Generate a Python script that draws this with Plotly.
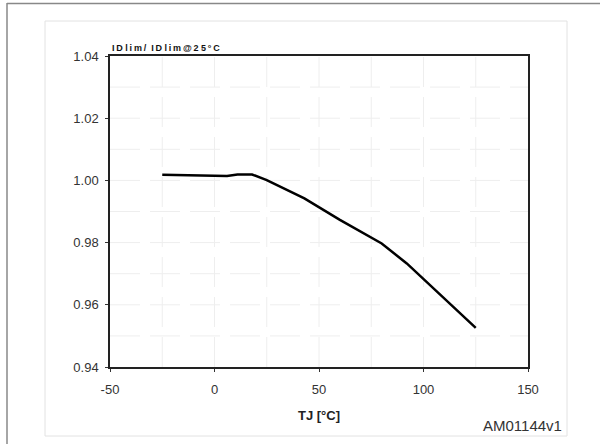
import plotly.graph_objects as go

tj = [-25, 0, 6, 11, 18, 25, 43, 60, 80, 92, 125]
ratio = [1.0018, 1.0015, 1.0014, 1.0019, 1.0019, 1.0001, 0.9942, 0.9873, 0.9797, 0.9733, 0.9526]

x_ticks = [-50, 0, 50, 100, 150]
x_tick_text = ["-50", "0", "50", "100", "150"]
y_ticks = [0.94, 0.96, 0.98, 1.00, 1.02, 1.04]
y_tick_text = ["0.94", "0.96", "0.98", "1.00", "1.02", "1.04"]

W, H = 600, 444
L, R, T, B = 110, 72, 56, 77
pw, ph = W - L - R, H - T - B

def px(x):
    return (x - L) / pw

def py(y):
    return (H - B - y) / ph

fig = go.Figure()
fig.add_trace(go.Scatter(x=tj, y=ratio, mode="lines",
                         line=dict(color="black", width=2.5), hoverinfo="skip"))

font = "Liberation Sans, Arial, sans-serif"
fig.update_layout(
    width=W, height=H,
    margin=dict(l=L, r=R, t=T, b=B),
    paper_bgcolor="white", plot_bgcolor="white",
    showlegend=False,
    xaxis=dict(range=[-50, 150], tickvals=x_ticks, ticktext=x_tick_text,
               ticks="outside", ticklen=3, ticklabelstandoff=7,
               tickcolor="#333", showline=True, linecolor="#222", linewidth=1.5,
               mirror=True, showgrid=False, zeroline=False,
               tickfont=dict(family=font, size=13, color="#333")),
    yaxis=dict(range=[0.94, 1.04], tickvals=y_ticks, ticktext=y_tick_text,
               ticks="outside", ticklen=3, ticklabelstandoff=4, tickcolor="#333",
               showline=True, linecolor="#222", linewidth=1.5, mirror=True,
               showgrid=False, zeroline=False,
               tickfont=dict(family=font, size=13, color="#333")),
)

# minor grid (every 25 on x, every 0.01 on y)
shapes = []
grid = dict(color="#eeeeee", width=1, dash="30px,10px")
for gx in range(-25, 150, 25):
    shapes.append(dict(type="line", xref="x", yref="y", x0=gx, x1=gx, y0=0.94, y1=1.04,
                       line=grid, layer="below"))
for i in range(1, 10):
    gy = 0.94 + i * 0.01
    shapes.append(dict(type="line", xref="x", yref="y", x0=-50, x1=150, y0=gy, y1=gy,
                       line=grid, layer="below"))

# inner panel frame
shapes.append(dict(type="rect", xref="paper", yref="paper",
                   x0=px(45), x1=px(567), y0=py(436), y1=py(21),
                   line=dict(color="#e2e2e2", width=1), layer="below"))
# outer frame (left and top)
shapes.append(dict(type="line", xref="paper", yref="paper",
                   x0=px(7), x1=px(7), y0=py(3), y1=py(444),
                   line=dict(color="#888", width=1.5)))
shapes.append(dict(type="line", xref="paper", yref="paper",
                   x0=px(7), x1=px(600), y0=py(3.5), y1=py(3.5),
                   line=dict(color="#888", width=1.5)))
fig.update_layout(shapes=shapes)

ts = "\u2009"
title_txt = ts.join("ID") + " " + ts.join("lim/") + "  " + ts.join("ID") + " " + ts.join("lim@2") + " " + ts.join("5°C")
fig.add_annotation(xref="paper", yref="paper", x=px(110), y=py(48),
                   xanchor="left", yanchor="middle", showarrow=False,
                   text="<b>" + title_txt + "</b>",
                   font=dict(family=font, size=9, color="#111"))
fig.add_annotation(xref="paper", yref="paper", x=px(319), y=py(415),
                   xanchor="center", yanchor="middle", showarrow=False,
                   text="<b>TJ [°C]</b>", font=dict(family=font, size=13, color="#222"))
fig.add_annotation(xref="paper", yref="paper", x=px(564), y=py(425),
                   xanchor="right", yanchor="middle", showarrow=False,
                   text="AM01144v1", font=dict(family=font, size=15, color="#333"))

fig.write_html("out.html", config={"displayModeBar": False},
               post_script="document.body.style.margin='0';document.body.style.overflow='hidden';")
